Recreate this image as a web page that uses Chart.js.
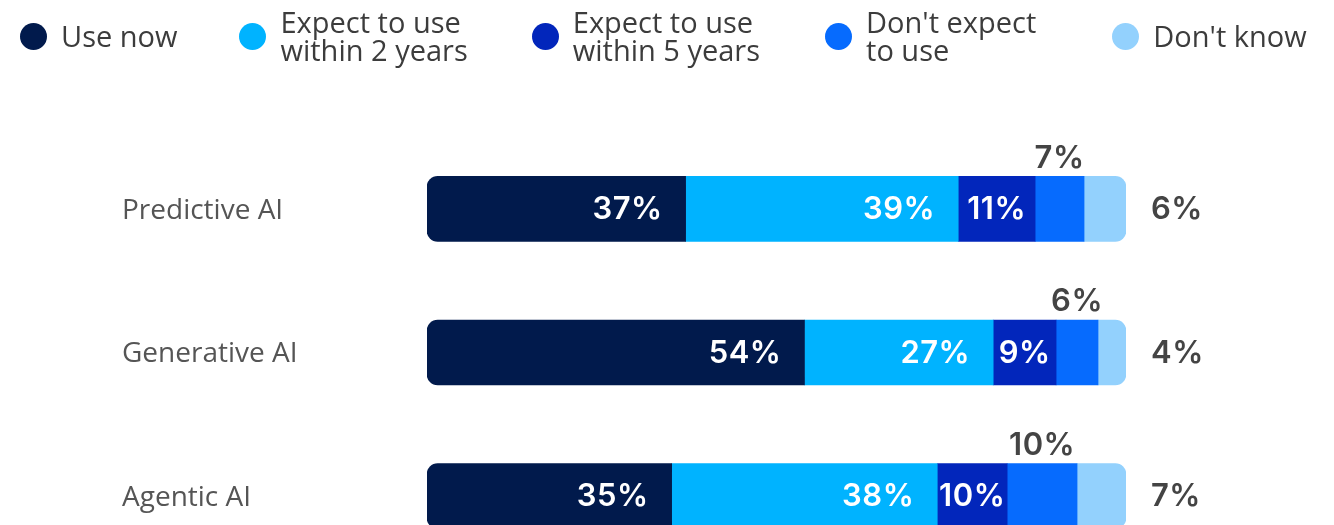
<!DOCTYPE html>
<html>
<head>
<meta charset="utf-8">
<title>AI adoption</title>
<script src="https://cdn.jsdelivr.net/npm/chart.js@4.4.1/dist/chart.umd.min.js"></script>
<style>
  html, body { margin: 0; padding: 0; background: #fff; overflow: hidden; }
  body { width: 1334px; height: 525px; position: relative; }
  #legend {
    position: absolute; left: 20px; top: 8px; z-index: 2; width: 1400px;
    display: flex; align-items: center;
    font-family: "Open Sans", sans-serif; font-size: 29px; line-height: 28px; color: #3c3c3c;
  }
  .item { display: flex; align-items: center; margin-right: 62px; flex: none; }
  .item:nth-child(3) { margin-left: 2px; }
  .item:nth-child(4) { margin-left: 3px; }
  .item:last-child { margin-left: 14px; }
  .dot { width: 27px; height: 27px; border-radius: 50%; margin-right: 14px; flex: none; }
  .txt { white-space: pre; }
  #wrap { position: absolute; left: 0; top: 0; width: 1334px; height: 600px; }
</style>
</head>
<body>
<div id="legend"></div>
<div id="wrap"><canvas id="adoptionChart"></canvas></div>
<script>
// categories and answer shares (%)
const categories = ["Predictive AI", "Generative AI", "Agentic AI"];
const seriesNames = ["Use now", "Expect to use\nwithin 2 years", "Expect to use\nwithin 5 years", "Don't expect\nto use", "Don't know"];
const useNow = [37, 54, 35];
const within2Years = [39, 27, 38];
const within5Years = [11, 9, 10];
const dontExpect = [7, 6, 10];
const dontKnow = [6, 4, 7];

const colors = ["#011a4c", "#00b3ff", "#0226bb", "#066bfe", "#93d1fd"];
const values = [useNow, within2Years, within5Years, dontExpect, dontKnow];
// where each series prints its numbers
const labelPlacement = ["inside", "inside", "inside", "above", "after"];

// html legend
const legendEl = document.getElementById("legend");
seriesNames.forEach((name, i) => {
  const item = document.createElement("div");
  item.className = "item";
  item.innerHTML = '<span class="dot" style="background:' + colors[i] + '"></span><span class="txt"></span>';
  item.querySelector(".txt").textContent = name;
  legendEl.appendChild(item);
});

// percent labels on / around the segments
const segmentLabels = {
  id: "segmentLabels",
  afterDatasetsDraw(chart) {
    const ctx = chart.ctx;
    ctx.save();
    ctx.font = "600 31px Inter";
    ctx.letterSpacing = "0.5px";
    ctx.textBaseline = "middle";
    chart.data.datasets.forEach((ds, di) => {
      const meta = chart.getDatasetMeta(di);
      meta.data.forEach((bar, i) => {
        const text = ds.data[i] + "%";
        const left = Math.min(bar.base, bar.x);
        const right = Math.max(bar.base, bar.x);
        const top = bar.y - bar.height / 2;
        const w = ctx.measureText(text).width;
        const place = labelPlacement[di];
        if (place === "above") {
          ctx.fillStyle = "#444";
          ctx.textAlign = "center";
          ctx.fillText(text, (left + right) / 2, top - 18);
        } else if (place === "after") {
          ctx.fillStyle = "#444";
          ctx.textAlign = "left";
          ctx.fillText(text, right + 25, bar.y + 1);
        } else {
          ctx.fillStyle = "#fff";
          if (right - left - w > 40) {
            ctx.textAlign = "right";
            ctx.fillText(text, right - 23, bar.y + 1);
          } else {
            ctx.textAlign = "center";
            ctx.fillText(text, (left + right) / 2, bar.y + 1);
          }
        }
      });
    });
    ctx.restore();
  }
};

const last = values.length - 1;
const datasets = values.map((data, i) => ({
  label: seriesNames[i].replace("\n", " "),
  data: data,
  backgroundColor: colors[i],
  borderWidth: 0,
  borderSkipped: false,
  borderRadius: {
    topLeft: i === 0 ? 11 : 0,
    bottomLeft: i === 0 ? 11 : 0,
    topRight: i === last ? 11 : 0,
    bottomRight: i === last ? 11 : 0
  },
  barThickness: 65
}));

const ctx = document.getElementById("adoptionChart").getContext("2d");
const adoptionChart = new Chart(ctx, {
  type: "bar",
  data: { labels: categories, datasets: datasets },
  options: {
    indexAxis: "y",
    responsive: true,
    maintainAspectRatio: false,
    animation: false,
    layout: { padding: { left: 122, right: 208, top: 137, bottom: 32 } },
    plugins: {
      legend: { display: false },
      tooltip: { enabled: false }
    },
    scales: {
      x: {
        stacked: true,
        min: 0,
        max: 100,
        display: false
      },
      y: {
        stacked: true,
        grid: { display: false },
        border: { display: false },
        afterFit(scale) { scale.width = 305; },
        ticks: {
          crossAlign: "far",
          color: "#555",
          padding: 0,
          labelOffset: 2,
          font: { family: "Open Sans", size: 28 }
        }
      }
    }
  },
  plugins: [segmentLabels]
});
</script>
</body>
</html>
